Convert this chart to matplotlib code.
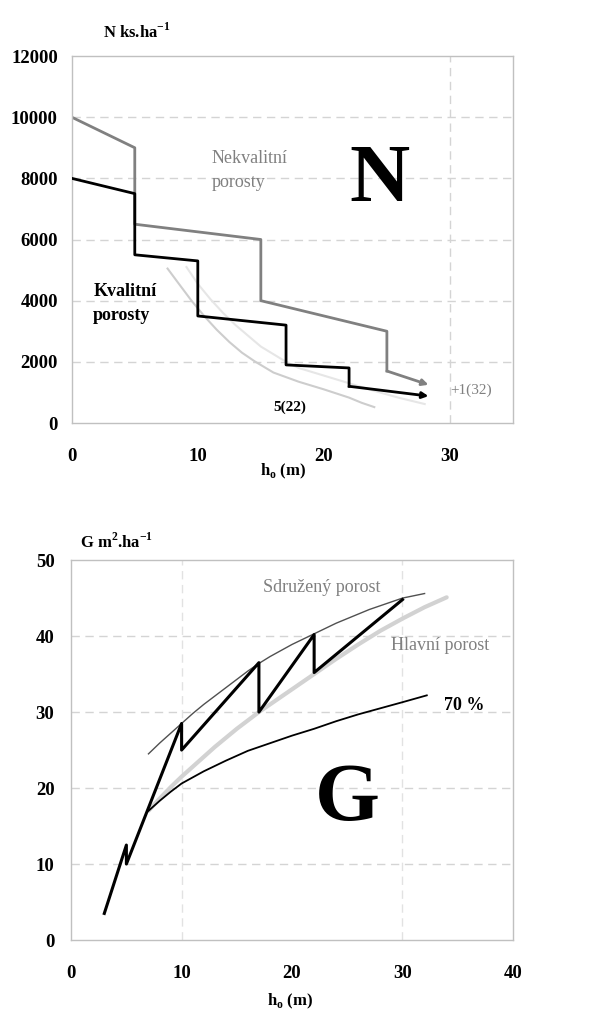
import numpy as np
import matplotlib
matplotlib.use('Agg')
import matplotlib.pyplot as plt

plt.rcParams['font.family'] = ['Liberation Serif', 'DejaVu Serif']
plt.rcParams['mathtext.fontset'] = 'custom'
plt.rcParams['mathtext.rm'] = 'Liberation Serif'
plt.rcParams['mathtext.bf'] = 'Liberation Serif:bold'

# N - number of trees per hectare vs. top height
nek_h = [0, 5, 5, 15, 15, 25, 25, 28.3]
nek_n = [10000, 9000, 6500, 6000, 4000, 3000, 1700, 1250]
kval_h = [0, 5, 5, 10, 10, 17, 17, 22, 22, 28.3]
kval_n = [8000, 7500, 5500, 5300, 3500, 3200, 1900, 1800, 1200, 880]
thinA_h = [7.6, 8.5, 9.5, 10.5, 11.5, 12.5, 13.5, 14.5, 16, 18, 20, 22, 23, 24]
thinA_n = [5050, 4550, 4000, 3500, 3050, 2650, 2300, 2020, 1650, 1350, 1100, 830, 660, 520]
thinB_h = [9.1, 10, 11, 12, 13, 14, 15, 16, 17, 18, 20, 22, 24, 26, 28]
thinB_n = [5100, 4550, 4050, 3600, 3200, 2850, 2500, 2250, 2000, 1800, 1550, 1300, 1050, 820, 620]

# G - basal area vs. top height
zig_h = [3, 5, 5, 10, 10, 17, 17, 22, 22, 30]
zig_g = [3.5, 12.5, 10, 28.5, 25, 36.5, 30, 40.2, 35.2, 44.8]
sdruz_h = [7, 8, 9, 10, 11, 12, 13, 14, 15, 16, 17, 18, 19, 20, 21, 22,
           23, 24, 25, 26, 27, 28, 29, 30, 31, 32]
sdruz_g = [24.5, 25.9, 27.2, 28.5, 29.8, 31.0, 32.1, 33.2, 34.3, 35.4, 36.4, 37.3,
           38.1, 38.9, 39.6, 40.3, 41.0, 41.7, 42.3, 42.9, 43.5, 44.0, 44.5, 45.0,
           45.3, 45.6]
hlav_h = [7, 8, 9, 10, 11, 12, 13, 14, 15, 16, 17, 18, 19, 20, 21, 22,
          24, 26, 28, 30, 32, 34]
hlav_g = [17, 18.6, 20.1, 21.5, 22.8, 24.1, 25.4, 26.6, 27.8, 28.9, 30.0, 31.0,
          32.0, 33.0, 34.0, 35.0, 37.0, 38.9, 40.7, 42.3, 43.8, 45.1]
p70_h = [7, 8, 9, 10, 12, 14, 16, 18, 20, 22, 24, 26, 28, 30, 32.2]
p70_g = [17, 18.3, 19.5, 20.6, 22.2, 23.6, 24.9, 25.9, 26.9, 27.8, 28.8, 29.7,
         30.5, 31.3, 32.2]

nticks = [0, 2000, 4000, 6000, 8000, 10000, 12000]
gticks = [0, 10, 20, 30, 40, 50]

GRAY = '#808080'
GRID = '#d4d4d4'

fig = plt.figure(figsize=(5.93, 10.11), dpi=100)
ax1 = fig.add_axes([0.121, 0.5816, 0.744, 0.363])
ax2 = fig.add_axes([0.120, 0.0702, 0.745, 0.3758])


def style(ax):
    for s in ax.spines.values():
        s.set_color('#c0c0c0')
        s.set_linewidth(1)
    ax.tick_params(length=0, labelsize=13.5, colors='black')
    for lab in ax.get_xticklabels() + ax.get_yticklabels():
        lab.set_fontweight('bold')
    ax.set_axisbelow(True)


# --- top panel ---
ax1.set_xlim(0, 35)
ax1.set_ylim(0, 12000)
ax1.set_xticks([0, 10, 20, 30])
ax1.set_yticks(nticks)
ax1.tick_params(axis='x', pad=18)
ax1.tick_params(axis='y', pad=10)
for yv in nticks[1:-1]:
    ax1.axhline(yv, color=GRID, lw=1, ls=(0, (6, 4)), zorder=0)
ax1.axvline(30, color=GRID, lw=1, ls=(0, (6, 4)), zorder=0)

ax1.plot(thinA_h, thinA_n, color='#cdcdcd', lw=1.5, zorder=1)
ax1.plot(thinB_h, thinB_n, color='#e6e6e6', lw=1.5, zorder=1)
ax1.plot(nek_h[:-1], nek_n[:-1], color=GRAY, lw=2, zorder=2)
ax1.annotate('', xy=(nek_h[-1], nek_n[-1]), xytext=(nek_h[-2], nek_n[-2]),
             arrowprops=dict(arrowstyle='-|>', color=GRAY, lw=2,
                             mutation_scale=9, shrinkA=0, shrinkB=0))
ax1.plot(kval_h[:-1], kval_n[:-1], color='black', lw=2, zorder=3)
ax1.annotate('', xy=(kval_h[-1], kval_n[-1]), xytext=(kval_h[-2], kval_n[-2]),
             arrowprops=dict(arrowstyle='-|>', color='black', lw=2,
                             mutation_scale=9, shrinkA=0, shrinkB=0))

ax1.text(11.1, 8260, 'Nekvalitní\nporosty', color=GRAY, fontsize=13,
         ha='left', va='center', linespacing=1.5)
ax1.text(24.4, 7900, 'N', fontsize=60, fontweight='bold', ha='center', va='center')
ax1.text(1.7, 3900, 'Kvalitní\nporosty', fontsize=13, fontweight='bold',
         ha='left', va='center', linespacing=1.5)
ax1.text(17.3, 525, '5(22)', fontsize=11, fontweight='bold', ha='center', va='center')
ax1.text(31.7, 1080, '+1(32)', fontsize=11, color=GRAY, ha='center', va='center')
ax1.text(0.07, 1.065, r'N ks.ha$^{\mathbf{-1}}$', transform=ax1.transAxes,
         fontsize=12, fontweight='bold', ha='left', va='center')
ax1.set_xlabel(r'h$_{\mathbf{o}}$ (m)', fontsize=12, fontweight='bold')
ax1.xaxis.set_label_coords(0.478, -0.105)
style(ax1)

# --- bottom panel ---
ax2.set_xlim(0, 40)
ax2.set_ylim(0, 50)
ax2.set_xticks([0, 10, 20, 30, 40])
ax2.set_yticks(gticks)
ax2.tick_params(axis='x', pad=18)
ax2.tick_params(axis='y', pad=12)
for yv in gticks[1:-1]:
    ax2.axhline(yv, color=GRID, lw=1, ls=(0, (6, 4)), zorder=0)
for xv in [10, 30]:
    ax2.axvline(xv, color='#e2e2e2', lw=1, ls=(0, (6, 4)), zorder=0)

ax2.plot(hlav_h, hlav_g, color='#d2d2d2', lw=3, solid_capstyle='round', zorder=1)
ax2.plot(sdruz_h, sdruz_g, color='#505050', lw=1, zorder=2)
ax2.plot(p70_h, p70_g, color='black', lw=1.3, zorder=2)
ax2.plot(zig_h, zig_g, color='black', lw=2.2, zorder=3)

ax2.text(22.7, 46.4, 'Sdružený porost', color=GRAY, fontsize=13, ha='center', va='center')
ax2.text(33.4, 38.8, 'Hlavní porost', color=GRAY, fontsize=13, ha='center', va='center')
ax2.text(35.6, 30.9, '70 %', fontsize=13, fontweight='bold', ha='center', va='center')
ax2.text(25.0, 18.4, 'G', fontsize=60, fontweight='bold', ha='center', va='center')
ax2.text(0.02, 1.047, r'G m$^{\mathbf{2}}$.ha$^{\mathbf{-1}}$', transform=ax2.transAxes,
         fontsize=12, fontweight='bold', ha='left', va='center')
ax2.set_xlabel(r'h$_{\mathbf{o}}$ (m)', fontsize=12, fontweight='bold')
ax2.xaxis.set_label_coords(0.495, -0.135)
style(ax2)

fig.savefig('out.png', dpi=100)
